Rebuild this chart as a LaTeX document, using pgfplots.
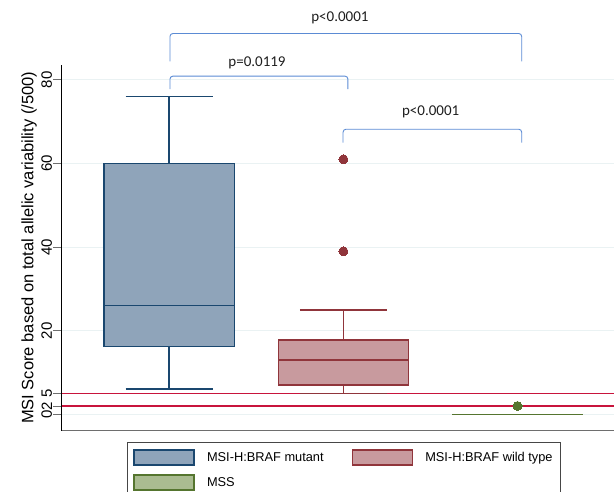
\documentclass[border=0pt]{standalone}
\usepackage{pgfplots}
\pgfplotsset{compat=1.18}
\usepackage{fontspec}
\setmainfont{Liberation Sans}
\newfontfamily\carlito{Carlito}
\definecolor{navyD}{RGB}{26,71,111}
\definecolor{navyF}{RGB}{143,164,186}
\definecolor{maroonD}{RGB}{144,53,59}
\definecolor{maroonF}{RGB}{200,154,158}
\definecolor{greenD}{RGB}{85,117,47}
\definecolor{greenF}{RGB}{170,188,145}
\definecolor{redline}{RGB}{200,20,60}
\definecolor{gridc}{RGB}{234,242,243}
\definecolor{axgray}{RGB}{110,110,110}
\definecolor{leggray}{RGB}{70,70,70}
\definecolor{bracketc}{RGB}{91,139,212}
\definecolor{textc}{RGB}{30,30,30}
\begin{document}
\begin{tikzpicture}
\begin{axis}[
  at={(61.3pt,-430.7pt)}, anchor=south west,
  scale only axis, width=552.7pt, height=365.7pt,
  xmin=0.38, xmax=3.554, ymin=-3.92, ymax=83.56,
  clip=false,
  axis line style={draw=none},
  xtick=\empty,
  ytick={0,2,5,20,40,60,80},
  ytick pos=left,
  tick align=outside, major tick length=8pt,
  ytick style={draw=axgray, line width=0.9pt},
  /pgf/number format/assume math mode=true,
  yticklabel style={rotate=90, anchor=south, font=\fontsize{15}{15}\selectfont, inner sep=1pt},
  ylabel={MSI Score based on total allelic variability (/500)},
  ylabel style={at={(axis description cs:-0.0584,0.5)}, anchor=center, font=\fontsize{16.5}{16.5}\selectfont},
  legend columns=2,
  legend cell align=left,
  legend style={at={(axis description cs:0.1189,-0.0309)}, anchor=north west, draw=leggray, line width=0.8pt, inner xsep=6pt, inner ysep=7pt, font=\fontsize{12.8}{12.8}\selectfont, row sep=8pt, /tikz/every odd column/.append style={column sep=10pt}, /tikz/every even column/.append style={column sep=26pt}},
  every axis plot/.append style={forget plot},
]
% light horizontal grid lines
\addplot[draw=gridc, line width=1pt, mark=none] coordinates {(0.38,0) (3.554,0)};
\addplot[draw=gridc, line width=1pt, mark=none] coordinates {(0.38,20) (3.554,20)};
\addplot[draw=gridc, line width=1pt, mark=none] coordinates {(0.38,40) (3.554,40)};
\addplot[draw=gridc, line width=1pt, mark=none] coordinates {(0.38,60) (3.554,60)};
\addplot[draw=gridc, line width=1pt, mark=none] coordinates {(0.38,80) (3.554,80)};
% reference lines at 2 and 5
\draw[redline, line width=1.5pt] (axis cs:0.38,2) -- (axis cs:3.554,2);
\draw[redline, line width=1.5pt] (axis cs:0.38,5) -- (axis cs:3.554,5);
% ---- MSI-H:BRAF mutant (position 1): lw 6, q1 16.2, med 26, q3 60, uw 76
\addplot[draw=navyD, line width=1.6pt, mark=none] coordinates {(1,60) (1,76)};
\addplot[draw=navyD, line width=1.6pt, mark=none] coordinates {(0.75,76) (1.25,76)};
\addplot[draw=navyD, line width=1.6pt, mark=none] coordinates {(1,16.2) (1,6)};
\addplot[draw=navyD, line width=1.6pt, mark=none] coordinates {(0.75,6) (1.25,6)};
\addplot[draw=navyD, fill=navyF, line width=1.6pt, mark=none] coordinates {(0.6265,16.2) (1.3735,16.2) (1.3735,60) (0.6265,60) (0.6265,16.2)} -- cycle;
\addplot[draw=navyD, line width=1.6pt, mark=none] coordinates {(0.6265,26) (1.3735,26)};
% ---- MSI-H:BRAF wild type (position 2): lw 5, q1 7, med 13, q3 17.8, uw 25, outliers 61, 39
\addplot[draw=maroonD, line width=1.6pt, mark=none] coordinates {(2,17.8) (2,25)};
\addplot[draw=maroonD, line width=1.6pt, mark=none] coordinates {(1.75,25) (2.25,25)};
\addplot[draw=maroonD, line width=1.6pt, mark=none] coordinates {(2,7) (2,5)};
\addplot[draw=maroonD, line width=1.6pt, mark=none] coordinates {(1.75,5) (2.25,5)};
\addplot[draw=maroonD, fill=maroonF, line width=1.6pt, mark=none] coordinates {(1.6265,7) (2.3735,7) (2.3735,17.8) (1.6265,17.8) (1.6265,7)} -- cycle;
\addplot[draw=maroonD, line width=1.6pt, mark=none] coordinates {(1.6265,13) (2.3735,13)};
\addplot[only marks, mark=*, mark size=4.5pt, mark options={draw=maroonD, fill=maroonD, line width=0pt}] coordinates {(2,61) (2,39)};
% ---- MSS (position 3): all quartiles 0, outlier 2
\addplot[draw=greenD, line width=1.6pt, mark=none] coordinates {(2.6265,0) (3.3735,0)};
\addplot[only marks, mark=*, mark size=4.5pt, mark options={draw=greenD, fill=greenD, line width=0pt}] coordinates {(3,2)};
% legend
\addlegendimage{legend image code/.code={\draw[draw=navyD,fill=navyF,line width=1.6pt] (0pt,-7.5pt) rectangle (60pt,7.5pt);}}
\addlegendentry{MSI-H:BRAF mutant}
\addlegendimage{legend image code/.code={\draw[draw=maroonD,fill=maroonF,line width=1.6pt] (0pt,-7.5pt) rectangle (60pt,7.5pt);}}
\addlegendentry{MSI-H:BRAF wild type}
\addlegendimage{legend image code/.code={\draw[draw=greenD,fill=greenF,line width=1.6pt] (0pt,-7.5pt) rectangle (60pt,7.5pt);}}
\addlegendentry{MSS}
% axis lines (left black, bottom gray)
\draw[axgray, line width=1.2pt] (rel axis cs:0,0) -- (rel axis cs:1,0);
\draw[black, line width=0.9pt] (rel axis cs:0,0) -- (rel axis cs:0,1);
% significance brackets
\draw[bracketc, line width=0.9pt, rounded corners=3pt] (axis cs:1.004,84.4) -- (axis cs:1.004,91.1) -- (axis cs:3.024,91.1) -- (axis cs:3.024,84.4);
\draw[bracketc, line width=0.9pt, rounded corners=3pt] (axis cs:1.004,77.8) -- (axis cs:1.004,80.9) -- (axis cs:2.026,80.9) -- (axis cs:2.026,77.8);
\draw[bracketc, line width=0.9pt, rounded corners=3pt] (axis cs:1.998,65.0) -- (axis cs:1.998,68.2) -- (axis cs:3.024,68.2) -- (axis cs:3.024,65.0);
\node[font=\carlito\fontsize{15}{15}\selectfont, text=textc] at (axis cs:1.98,94.8) {p<0.0001};
\node[font=\carlito\fontsize{15}{15}\selectfont, text=textc] at (axis cs:1.504,84.1) {p=0.0119};
\node[font=\carlito\fontsize{15}{15}\selectfont, text=textc] at (axis cs:2.501,72.3) {p<0.0001};
\end{axis}
\pgfresetboundingbox
\path[use as bounding box] (0pt,0pt) rectangle (614pt,-491pt);
\end{tikzpicture}
\end{document}
